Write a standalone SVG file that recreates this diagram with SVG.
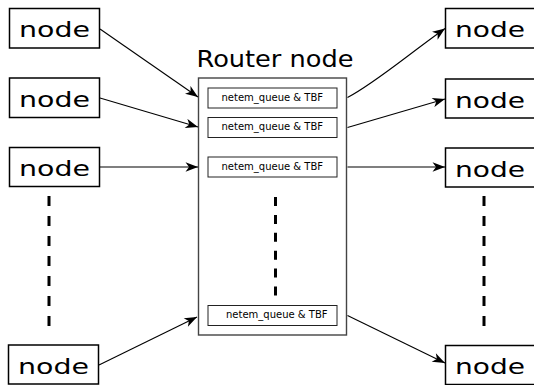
<svg xmlns="http://www.w3.org/2000/svg" width="534" height="385" viewBox="0 0 534 385">
  <defs>
    <marker id="arr" viewBox="-13 -5 14 10" refX="0" refY="0" markerWidth="14" markerHeight="10" orient="auto" markerUnits="userSpaceOnUse">
      <path d="M0,0 L-12.5,-4.8 L-9,0 L-12.5,4.8 Z" fill="#000"/>
    </marker>
  </defs>
  <style>
    .node rect { fill: #fff; stroke: #000; stroke-width: 1.5; }
    .node text { font-family: "DejaVu Sans", sans-serif; font-size: 22px; fill: #000; }
    .router { fill: #fff; stroke: #444; stroke-width: 1.4; }
    .title { font-family: "DejaVu Sans", sans-serif; font-size: 23px; fill: #000; }
    .queue rect { fill: #fff; stroke: #222; stroke-width: 1; }
    .queue text { font-family: "DejaVu Sans", sans-serif; font-size: 10px; fill: #000; }
    .conn path { fill: none; stroke: #000; stroke-width: 1.1; marker-end: url(#arr); }
    .dots { fill: none; stroke: #000; stroke-width: 3; }
  </style>
  <rect width="534" height="385" fill="#fff"/>

  <!-- left nodes -->
  <g id="in1" class="node"><rect x="9.5" y="8.5" width="90" height="39.5"/><text x="19" y="37" textLength="71" lengthAdjust="spacingAndGlyphs">node</text></g>
  <g id="in2" class="node"><rect x="9.5" y="78" width="90" height="39.5"/><text x="19" y="106.5" textLength="71" lengthAdjust="spacingAndGlyphs">node</text></g>
  <g id="in3" class="node"><rect x="9.5" y="147.5" width="90" height="39"/><text x="19" y="176" textLength="71" lengthAdjust="spacingAndGlyphs">node</text></g>
  <g id="in4" class="node"><rect x="8.5" y="345" width="90" height="39"/><text x="18" y="373.5" textLength="71" lengthAdjust="spacingAndGlyphs">node</text></g>

  <!-- right nodes -->
  <g id="out1" class="node"><rect x="445.5" y="8.5" width="100" height="39.5"/><text x="455" y="37" textLength="70" lengthAdjust="spacingAndGlyphs">node</text></g>
  <g id="out2" class="node"><rect x="445.5" y="79" width="100" height="39"/><text x="455" y="107.5" textLength="70" lengthAdjust="spacingAndGlyphs">node</text></g>
  <g id="out3" class="node"><rect x="445.5" y="148" width="100" height="39"/><text x="455" y="176.5" textLength="70" lengthAdjust="spacingAndGlyphs">node</text></g>
  <g id="out4" class="node"><rect x="445.5" y="345.5" width="100" height="39"/><text x="455" y="373.5" textLength="70" lengthAdjust="spacingAndGlyphs">node</text></g>

  <!-- router -->
  <g id="router">
    <text class="title" x="196.5" y="66.5" textLength="157" lengthAdjust="spacingAndGlyphs">Router node</text>
    <rect class="router" x="198.5" y="78" width="148" height="257"/>
    <g id="q1" class="queue"><rect x="208" y="88" width="129" height="20"/><text x="221.5" y="100.8">netem_queue &amp; TBF</text></g>
    <g id="q2" class="queue"><rect x="208" y="117.5" width="129" height="20"/><text x="221.5" y="130.3">netem_queue &amp; TBF</text></g>
    <g id="q3" class="queue"><rect x="208" y="157" width="129" height="20"/><text x="221.5" y="169.8">netem_queue &amp; TBF</text></g>
    <g id="q4" class="queue"><rect x="208" y="305.5" width="129" height="20"/><text x="226" y="318.3">netem_queue &amp; TBF</text></g>
    <line class="dots" x1="275.5" y1="197" x2="275.5" y2="296" stroke-dasharray="9 8.9"/>
  </g>

  <!-- ellipsis dashes -->
  <line class="dots" x1="49" y1="196" x2="49" y2="326" stroke-dasharray="10 10"/>
  <line class="dots" x1="484" y1="196" x2="484" y2="326" stroke-dasharray="10 10"/>

  <!-- connectors -->
  <g id="connectors" class="conn">
    <path d="M100,29 L198,97"/>
    <path d="M100,98 L198,127"/>
    <path d="M100,167 L198,167"/>
    <path d="M99,365 L197,317"/>
    <path d="M347.5,97.5 C375,83 405,57 445,28.5"/>
    <path d="M347.5,127.5 L445,99"/>
    <path d="M347.5,167 L445,167"/>
    <path d="M347.5,315.5 L445,363"/>
  </g>
</svg>
